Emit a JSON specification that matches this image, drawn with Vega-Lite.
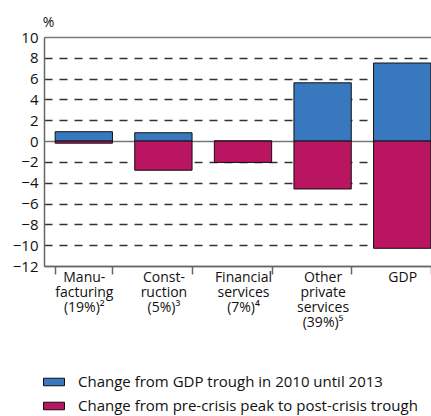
{
  "$schema": "https://vega.github.io/schema/vega-lite/v6.json",
  "autosize": "none",
  "padding": {"left": 44, "top": 37, "right": 0, "bottom": 150},
  "width": 398,
  "height": 229,
  "config": {"font": "Open Sans", "view": {"stroke": null}, "axis": {"labelColor": "#111", "titleColor": "#111"}},
  "data": {"values": [
    {"sector": "Manu-\nfacturing\n(19%)²", "series": "Change from GDP trough in 2010 until 2013", "value": 0.9},
    {"sector": "Manu-\nfacturing\n(19%)²", "series": "Change from pre-crisis peak to post-crisis trough", "value": -0.2},
    {"sector": "Const-\nruction\n(5%)³", "series": "Change from GDP trough in 2010 until 2013", "value": 0.8},
    {"sector": "Const-\nruction\n(5%)³", "series": "Change from pre-crisis peak to post-crisis trough", "value": -2.8},
    {"sector": "Financial\nservices\n(7%)⁴", "series": "Change from GDP trough in 2010 until 2013", "value": 0},
    {"sector": "Financial\nservices\n(7%)⁴", "series": "Change from pre-crisis peak to post-crisis trough", "value": -2.05},
    {"sector": "Other\nprivate\nservices\n(39%)⁵", "series": "Change from GDP trough in 2010 until 2013", "value": 5.6},
    {"sector": "Other\nprivate\nservices\n(39%)⁵", "series": "Change from pre-crisis peak to post-crisis trough", "value": -4.6},
    {"sector": "GDP", "series": "Change from GDP trough in 2010 until 2013", "value": 7.5},
    {"sector": "GDP", "series": "Change from pre-crisis peak to post-crisis trough", "value": -10.3}
  ]},
  "mark": {"type": "bar", "stroke": "#111", "strokeWidth": 1},
  "encoding": {
    "x": {
      "field": "sector", "type": "nominal", "sort": null,
      "scale": {"paddingInner": 0.28, "paddingOuter": 0.14},
      "axis": {
        "title": null, "labelAngle": 0, "tickBand": "extent", "tickSize": 8, "tickColor": "#666", "tickWidth": 1.5,
        "domainColor": "#666", "domainWidth": 1.5, "labelExpr": "split(datum.label, '\\n')",
        "labelFontSize": 14, "labelLineHeight": 15, "labelPadding": -4, "labelBaseline": "top", "grid": false
      }
    },
    "y": {
      "field": "value", "type": "quantitative", "stack": null,
      "scale": {"domain": [-12, 10], "nice": false, "zero": false},
      "axis": {
        "values": [-12, -10, -8, -6, -4, -2, 0, 2, 4, 6, 8, 10],
        "grid": true,
        "gridDash": {"condition": {"test": "datum.value == 0 || datum.value == 10 || datum.value == -12", "value": []}, "value": [8, 7]},
        "gridColor": {"condition": {"test": "datum.value == 0 || datum.value == 10 || datum.value == -12", "value": "#777"}, "value": "#333"},
        "gridWidth": 1.3,
        "ticks": false, "domainColor": "#666", "domainWidth": 1.5,
        "labelFontSize": 15, "labelPadding": 6,
        "title": "%", "titleAngle": 0, "titleFontSize": 14, "titleFontWeight": "normal",
        "titleX": 4, "titleY": -11, "titleAlign": "center", "titleBaseline": "alphabetic"
      }
    },
    "color": {
      "field": "series", "type": "nominal",
      "scale": {"domain": ["Change from GDP trough in 2010 until 2013", "Change from pre-crisis peak to post-crisis trough"], "range": ["#3878BE", "#BA1560"]},
      "legend": {
        "title": null, "orient": "none", "legendX": -1, "legendY": 334, "direction": "vertical",
        "symbolType": "M-1,-0.36H1V0.36H-1Z", "symbolSize": 441, "symbolStrokeColor": "#111", "symbolStrokeWidth": 1,
        "labelFontSize": 15, "labelColor": "#111", "labelOffset": 13, "rowPadding": 5, "labelLimit": 400
      }
    }
  }
}
